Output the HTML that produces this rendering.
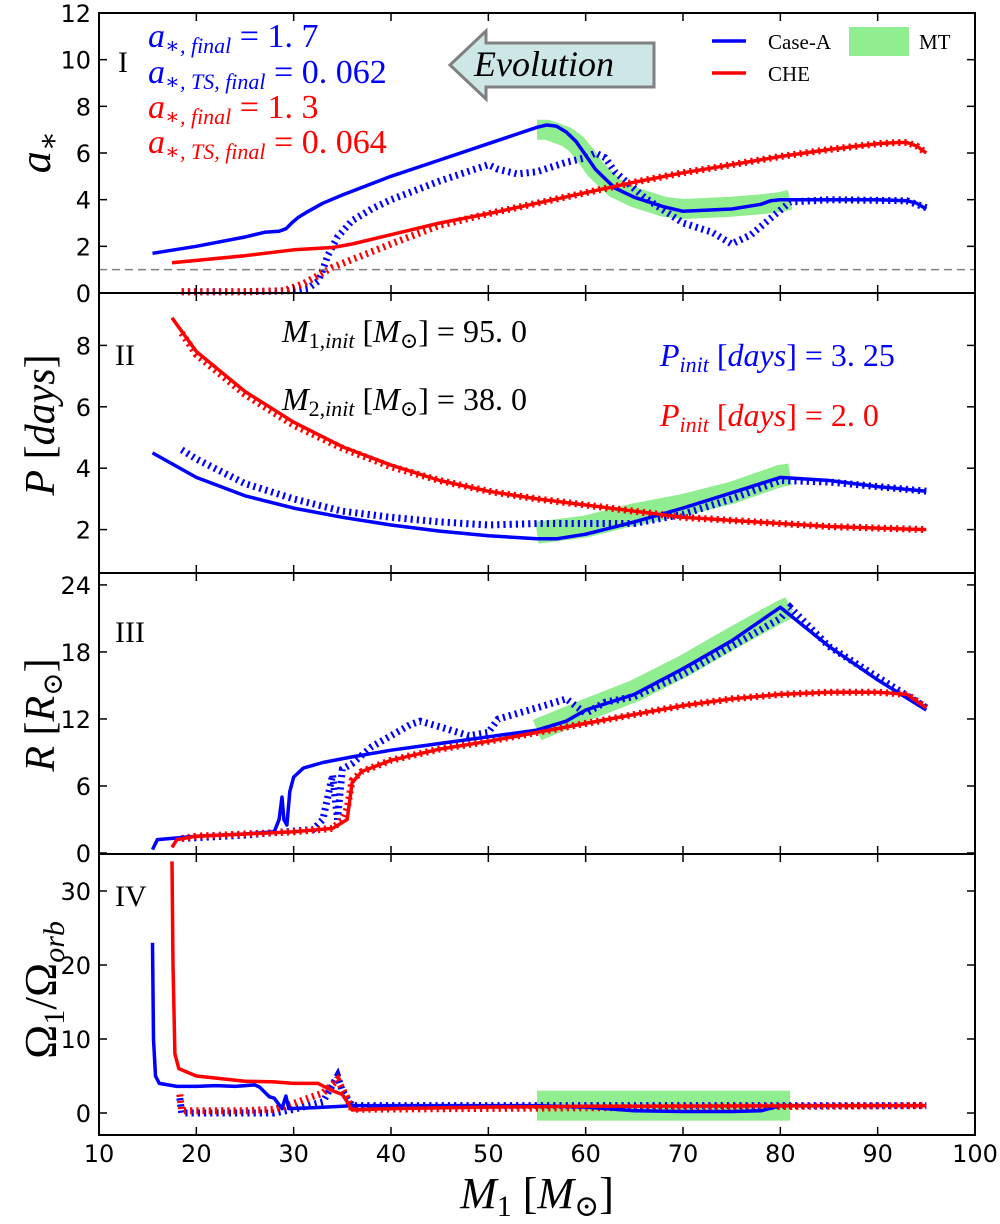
<!DOCTYPE html>
<html><head><meta charset="utf-8">
<style>
body{margin:0;background:#fff;}
svg{display:block;}
.tick{font-family:"DejaVu Sans","Liberation Sans",sans-serif;font-size:24px;fill:#000;}
.m{font-family:"Liberation Serif","DejaVu Serif",serif;font-style:italic;}
.r{font-family:"Liberation Serif","DejaVu Serif",serif;}
</style></head>
<body>
<svg id="chart" width="1000" height="1224" viewBox="0 0 1000 1224" xmlns="http://www.w3.org/2000/svg">
<g id="marks"></g>
<g id="frame"></g>
<!-- Panel I annotations -->
<text x="118" y="72" class="r" font-size="30">I</text>
<g font-size="34">
<text x="148" y="47" fill="#0000ff"><tspan class="m">a</tspan><tspan class="m" font-size="22" dy="6">∗, final</tspan><tspan class="r" dy="-6"> = 1. 7</tspan></text>
<text x="148" y="83" fill="#0000ff"><tspan class="m">a</tspan><tspan class="m" font-size="22" dy="6">∗, TS, final</tspan><tspan class="r" dy="-6"> = 0. 062</tspan></text>
<text x="148" y="118" fill="#ff0000"><tspan class="m">a</tspan><tspan class="m" font-size="22" dy="6">∗, final</tspan><tspan class="r" dy="-6"> = 1. 3</tspan></text>
<text x="148" y="153" fill="#ff0000"><tspan class="m">a</tspan><tspan class="m" font-size="22" dy="6">∗, TS, final</tspan><tspan class="r" dy="-6"> = 0. 064</tspan></text>
</g>
<g>
<polygon points="450,65 486,31 486,43 654,43 654,87 486,87 486,99" fill="#cde6e6" stroke="#808080" stroke-width="3"/>
<text x="474" y="76" class="m" font-size="36" fill="#000">Evolution</text>
</g>
<g>
<line x1="712" y1="41" x2="746" y2="41" stroke="#0000ff" stroke-width="3.5"/>
<text x="768" y="49" class="r" font-size="21">Case-A</text>
<rect x="849" y="27" width="60" height="29" fill="#90ee90"/>
<text x="919" y="49" class="r" font-size="21">MT</text>
<line x1="712" y1="73" x2="746" y2="73" stroke="#ff0000" stroke-width="3.5"/>
<text x="768" y="81" class="r" font-size="21">CHE</text>
</g>
<!-- Panel II annotations -->
<text x="115" y="365" class="r" font-size="30">II</text>
<text x="282" y="342" font-size="32" fill="#000"><tspan class="m">M</tspan><tspan class="r" font-size="22" dy="6">1,</tspan><tspan class="m" font-size="22">init</tspan><tspan class="r" dy="-6"> [</tspan><tspan class="m">M</tspan><tspan class="r" font-size="22" dy="6">⊙</tspan><tspan class="r" dy="-6">] =  95. 0</tspan></text>
<text x="282" y="410" font-size="32" fill="#000"><tspan class="m">M</tspan><tspan class="r" font-size="22" dy="6">2,</tspan><tspan class="m" font-size="22">init</tspan><tspan class="r" dy="-6"> [</tspan><tspan class="m">M</tspan><tspan class="r" font-size="22" dy="6">⊙</tspan><tspan class="r" dy="-6">] =  38. 0</tspan></text>
<text x="660" y="366" font-size="32" fill="#0000ff"><tspan class="m">P</tspan><tspan class="m" font-size="22" dy="6">init</tspan><tspan class="r" dy="-6"> [</tspan><tspan class="m">days</tspan><tspan class="r">] =  3. 25</tspan></text>
<text x="660" y="426" font-size="32" fill="#ff0000"><tspan class="m">P</tspan><tspan class="m" font-size="22" dy="6">init</tspan><tspan class="r" dy="-6"> [</tspan><tspan class="m">days</tspan><tspan class="r">] =  2. 0</tspan></text>
<text x="115" y="642" class="r" font-size="30">III</text>
<text x="115" y="906" class="r" font-size="30">IV</text>
<!-- axis titles -->
<text transform="translate(50,152) rotate(-90)" text-anchor="middle" font-size="44" class="m">a<tspan font-size="30" dy="8">∗</tspan></text>
<text transform="translate(54,425) rotate(-90)" text-anchor="middle" font-size="42"><tspan class="m">P</tspan><tspan class="r"> [</tspan><tspan class="m">days</tspan><tspan class="r">]</tspan></text>
<text transform="translate(54,715) rotate(-90)" text-anchor="middle" font-size="42"><tspan class="m">R</tspan><tspan class="r"> [</tspan><tspan class="m">R</tspan><tspan class="r" font-size="28" dy="8">⊙</tspan><tspan class="r" dy="-8">]</tspan></text>
<text transform="translate(56,990) rotate(-90)" text-anchor="middle" font-size="46"><tspan class="r">Ω</tspan><tspan class="r" font-size="30" dy="8">1</tspan><tspan class="r" dy="-8">/Ω</tspan><tspan class="m" font-size="30" dy="8">orb</tspan></text>
<text x="537" y="1208" text-anchor="middle" font-size="44"><tspan class="m">M</tspan><tspan class="r" font-size="30" dy="8">1</tspan><tspan class="r" dy="-8"> [</tspan><tspan class="m">M</tspan><tspan class="r" font-size="30" dy="8">⊙</tspan><tspan class="r" dy="-8">]</tspan></text>
</svg>
<script>
// ---- data ----
const xTicks=[10,20,30,40,50,60,70,80,90,100];
const aTicks=[0,2,4,6,8,10,12];
const pTicks=[2,4,6,8];
const rTicks=[0,6,12,18,24];
const oTicks=[0,10,20,30];
// panel I: spin a*
const aBlueX=[15.5,20,25,27,28.5,29.2,29.8,30.5,31.5,33,35,40,45,50,55,56,57,58,59,60,61,62,63,65,68,70,75,78,79,80,85,90,93,94,95];
const aBlueY=[1.7,2.0,2.4,2.6,2.65,2.75,3.0,3.25,3.5,3.85,4.2,5.0,5.7,6.4,7.1,7.2,7.15,6.9,6.5,5.9,5.3,4.9,4.5,4.1,3.7,3.5,3.6,3.8,3.95,4.0,4.0,4.0,3.95,3.85,3.6];
const aBlueTsX=[18.5,25,30,31.5,32.5,33,33.5,34.5,36,38,40,45,50,51,53,55,58,60,61,62,63,66,70,73,75,77,79,81,85,93,95];
const aBlueTsY=[0.05,0.05,0.1,0.2,0.5,1.0,1.6,2.4,3.1,3.6,4.0,4.8,5.5,5.3,5.1,5.2,5.6,5.8,6.0,5.8,5.2,4.1,3.0,2.6,2.1,2.5,3.2,3.9,4.0,3.95,3.65];
const aRedX=[17.5,25,30,34,36,40,45,50,55,60,65,70,75,80,85,90,92,93,94,95];
const aRedY=[1.3,1.6,1.85,1.95,2.1,2.5,3.0,3.4,3.85,4.3,4.75,5.15,5.5,5.85,6.15,6.4,6.45,6.45,6.3,6.0];
const aRedTsX=[18.5,25,29,31,34,37,40,45,50,55,60,65,70,75,80,85,90,92,93,94,95];
const aRedTsY=[0.05,0.05,0.1,0.4,1.1,1.6,2.1,2.9,3.4,3.85,4.3,4.75,5.15,5.5,5.85,6.15,6.4,6.45,6.45,6.3,6.0];
const aMtX=[55,56,58,59,60,61,62,63,65,68,70,75,78,80,81];
const aMtY=[7.0,7.0,6.7,6.4,5.9,5.3,4.9,4.5,4.1,3.7,3.6,3.7,3.8,3.9,4.0];
// panel II: period
const pBlueX=[15.5,20,25,30,35,40,45,50,55,57,60,65,70,75,80,85,90,95];
const pBlueY=[4.5,3.7,3.1,2.7,2.4,2.15,1.95,1.8,1.7,1.7,1.85,2.25,2.7,3.2,3.7,3.6,3.4,3.25];
const pBlueTsX=[18.5,20,25,30,35,40,45,50,55,60,65,70,75,80,85,95];
const pBlueTsY=[4.6,4.3,3.5,3.0,2.6,2.4,2.25,2.15,2.2,2.2,2.2,2.5,3.0,3.6,3.55,3.25];
const pRedX=[17.5,20,25,30,35,40,45,50,55,60,65,70,75,80,85,90,95];
const pRedY=[8.9,7.8,6.5,5.5,4.7,4.1,3.6,3.25,3.0,2.8,2.6,2.4,2.3,2.2,2.1,2.05,2.0];
const pRedTsX=[18.5,20,25,30,35,40,45,50,55,60,65,70,75,80,85,90,95];
const pRedTsY=[8.4,7.7,6.4,5.4,4.65,4.05,3.6,3.25,3.0,2.8,2.6,2.4,2.3,2.2,2.1,2.05,2.0];
const pMtX=[55,60,65,70,75,80,81];
const pMtY=[1.9,2.1,2.5,2.8,3.2,3.75,3.8];
// panel III: radius
const rBlueX=[15.5,16,20,25,28,28.5,28.8,29,29.3,29.6,30,31,33,36,40,45,50,55,58,60,65,70,75,80,85,90,95];
const rBlueY=[0.3,1.2,1.5,1.7,1.9,3,5,3,2.5,5.5,6.8,7.6,8.1,8.6,9.2,9.8,10.4,11,11.8,12.8,14.2,16.5,19,22,18.5,15.5,12.8];
const rBlueTsX=[18.5,25,32,33,34,34.5,35,36,38,40,42,43,45,48,50,51,55,58,60,62,65,70,75,80,81,85,95];
const rBlueTsY=[1.3,1.6,2.1,3,7,3,7.5,8,9.5,10.5,11.5,11.8,11.3,10.5,10.8,12,13,13.8,12.5,13.5,14,16,18.5,21,22,18.5,13];
const rRedX=[17.5,18,20,25,30,34,35.5,36,37,40,45,50,55,60,65,70,75,80,85,90,93,95];
const rRedY=[0.5,1.2,1.5,1.7,1.9,2.2,3,6.3,7.3,8.3,9.3,10,10.8,11.6,12.4,13.2,13.8,14.2,14.4,14.4,14.2,13];
const rRedTsX=[18.5,20,25,30,34,35,35.5,36,37,40,45,50,55,60,65,70,75,80,85,90,93,95];
const rRedTsY=[1.3,1.5,1.7,1.9,2.2,3,4,6.5,7.3,8.3,9.3,10,10.8,11.6,12.4,13.2,13.8,14.2,14.4,14.4,14.2,13];
const rMtX=[55,60,65,70,75,80,81];
const rMtY=[11,12.8,14.5,16.7,19.2,21.6,22];
// panel IV: omega ratio
const oBlueX=[15.5,15.6,15.8,16.2,18,20,22,24,26,26.5,27.5,28,28.8,29.2,29.5,32,35,36,50,55,60,65,70,75,78,80,85,95];
const oBlueY=[23,10,5,4,3.6,3.6,3.7,3.6,3.8,3.5,2.2,2,0.6,2.3,0.6,0.7,0.9,1,1,1,0.8,0.3,0.2,0.2,0.3,1,1,1];
const oBlueTsX=[18.3,18.5,25,28,30,33,34.5,35,36,95];
const oBlueTsY=[2,0,0,0,0.5,1.5,5,3,1,1];
const oRedX=[17.5,17.6,17.8,18.2,20,25,28,30,32.5,34,35,35.5,36,40,50,60,95];
const oRedY=[34,20,8,6,5,4.3,4.2,4,4,3,2.5,1.5,0.4,0.6,0.8,0.9,1];
const oRedTsX=[18.3,18.5,25,28,30,33,34.5,35.5,36,95];
const oRedTsY=[2.5,0.3,0.3,0.5,1.3,2.7,4.5,2,0.5,1];
const oMtX=[55,80,81];
const oMtY=[1,1,1];

// ---- axes ----
const X0=99,X1=975;
const xs=v=>X0+(v-10)*(X1-X0)/90;
const panels=[
 {name:'spin',top:13,bot:293,lo:0,hi:12,ticks:aTicks,mtw:20},
 {name:'period',top:293,bot:573,lo:(591-573)/30.7,hi:(591-293)/30.7,ticks:pTicks,mtw:22},
 {name:'radius',top:573,bot:854,lo:(853-854)/11.17,hi:(853-573)/11.17,ticks:rTicks,mtw:22},
 {name:'omega',top:854,bot:1135,lo:(1113-1135)/7.4,hi:(1113-854)/7.4,ticks:oTicks,mtw:30}
];
panels.forEach(p=>{p.ys=v=>p.bot-(v-p.lo)*(p.bot-p.top)/(p.hi-p.lo);});
const NS='http://www.w3.org/2000/svg';
const marks=document.getElementById('marks'), frame=document.getElementById('frame');
function mk(tag,attrs,parent){const e=document.createElementNS(NS,tag);for(const k in attrs)e.setAttribute(k,attrs[k]);parent.appendChild(e);return e;}
function path(p,xa,ya){return xa.map((x,i)=>(i?'L':'M')+xs(x).toFixed(1)+','+p.ys(ya[i]).toFixed(1)).join(' ');}

const series=[
 [0,aMtX,aMtY,aBlueX,aBlueY,aBlueTsX,aBlueTsY,aRedX,aRedY,aRedTsX,aRedTsY],
 [1,pMtX,pMtY,pBlueX,pBlueY,pBlueTsX,pBlueTsY,pRedX,pRedY,pRedTsX,pRedTsY],
 [2,rMtX,rMtY,rBlueX,rBlueY,rBlueTsX,rBlueTsY,rRedX,rRedY,rRedTsX,rRedTsY],
 [3,oMtX,oMtY,oBlueX,oBlueY,oBlueTsX,oBlueTsY,oRedX,oRedY,oRedTsX,oRedTsY]
];
series.forEach(s=>{
 const p=panels[s[0]];
 const g=mk('g',{},marks);
 
 
 let e;
 e=mk('path',{d:path(p,s[1],s[2]),fill:'none',stroke:'#90ee90','stroke-width':p.mtw,'stroke-linejoin':'round'},g);
 
 
 e=mk('path',{d:path(p,s[5],s[6]),fill:'none',stroke:'#0000ff','stroke-width':7,'stroke-dasharray':'2.2,4'},g);
 
 
 e=mk('path',{d:path(p,s[9],s[10]),fill:'none',stroke:'#ff0000','stroke-width':7,'stroke-dasharray':'2.2,4'},g);
 
 
 e=mk('path',{d:path(p,s[3],s[4]),fill:'none',stroke:'#0000ff','stroke-width':3.5,'stroke-linejoin':'round'},g);
 
 
 e=mk('path',{d:path(p,s[7],s[8]),fill:'none',stroke:'#ff0000','stroke-width':3.5,'stroke-linejoin':'round'},g);
 
 
});
let dl=mk('line',{x1:X0,x2:X1,y1:panels[0].ys(1),y2:panels[0].ys(1),stroke:'#808080','stroke-width':1.5,'stroke-dasharray':'8,5'},marks);



panels.forEach((p,pi)=>{
 let r=mk('rect',{x:X0,y:p.top,width:X1-X0,height:p.bot-p.top,fill:'none',stroke:'#000','stroke-width':2},frame);
 
 
 p.ticks.forEach(t=>{
  const y=p.ys(t);
  let l=mk('line',{x1:X0,x2:X0+8,y1:y,y2:y,stroke:'#000','stroke-width':1.5},frame);
  
  
  l=mk('line',{x1:X1-8,x2:X1,y1:y,y2:y,stroke:'#000','stroke-width':1.5},frame);
  
  
  const tx=mk('text',{x:X0-8,y:y+9,'text-anchor':'end',class:'tick'},frame);
  tx.textContent=t;
  
  
 });
 xTicks.forEach(v=>{
  const x=xs(v);
  let l=mk('line',{x1:x,x2:x,y1:p.bot,y2:p.bot-8,stroke:'#000','stroke-width':1.5},frame);
  
  
  l=mk('line',{x1:x,x2:x,y1:p.top,y2:p.top+8,stroke:'#000','stroke-width':1.5},frame);
  
  
 });
});
xTicks.forEach(v=>{
 const t=mk('text',{x:xs(v),y:1162,'text-anchor':'middle',class:'tick'},frame);
 t.textContent=v;
 
 
});
</script>
</body></html>
